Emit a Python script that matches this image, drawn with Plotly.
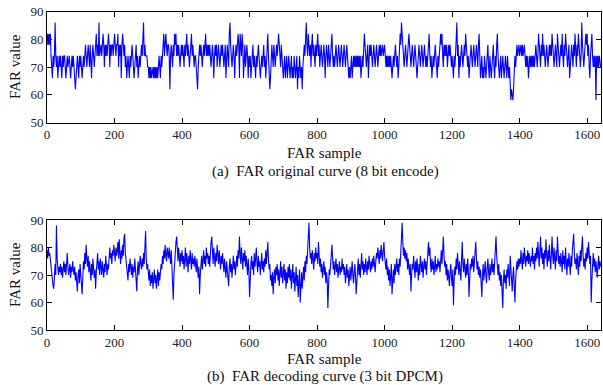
import plotly.graph_objects as go

# sample index step (every 2nd sample shown)
SAMPLE_STEP = 2

# (a) FAR original curve, 8-bit encode (quantized levels)
far_original = [
    78,82,78,82,78,82,74,70,66,74,70,74,86,74,70,74,66,70,74,70,
    74,70,66,74,70,74,74,70,66,70,74,70,74,74,70,66,70,74,70,74,
    70,66,62,66,70,74,70,66,74,70,74,70,66,70,74,70,74,78,74,70,
    74,78,74,70,78,74,66,74,78,74,70,74,78,82,74,78,74,86,74,78,
    78,74,78,82,78,70,78,74,78,74,78,82,78,70,78,74,78,78,74,78,
    82,78,74,78,78,82,70,78,74,78,66,78,82,78,74,78,70,74,66,70,
    74,70,66,74,70,74,78,74,70,66,70,74,78,70,74,66,70,74,70,74,
    78,74,82,86,74,78,74,74,74,70,70,66,70,66,70,66,70,70,66,70,
    66,70,66,70,66,70,74,70,66,74,70,74,78,82,74,78,82,78,74,78,
    78,74,62,74,78,74,70,78,74,82,78,82,74,78,74,78,74,70,74,78,
    74,78,74,70,78,74,78,82,74,78,74,70,74,78,82,74,78,74,70,74,
    74,70,66,62,70,74,78,74,78,74,70,74,78,74,78,82,74,78,74,78,
    74,78,74,70,74,78,74,66,74,78,74,78,70,74,78,74,70,74,78,74,
    78,74,70,74,78,66,74,78,74,70,82,86,78,74,70,74,78,74,66,74,
    78,74,78,82,78,66,82,78,74,82,78,66,74,78,70,74,78,74,66,74,
    70,74,66,70,74,78,70,74,70,66,74,70,74,78,74,70,66,70,74,70,
    74,78,70,74,66,74,78,82,74,70,62,66,74,78,74,70,78,74,70,74,
    78,74,78,82,78,74,70,78,74,70,66,70,74,66,70,74,66,70,74,70,
    66,70,74,66,70,66,74,70,66,70,74,62,70,66,74,70,66,70,62,70,
    74,78,74,82,86,78,74,82,78,74,78,70,78,82,74,78,74,70,78,74,
    78,82,74,78,70,74,78,74,70,74,78,74,66,74,78,74,70,78,74,70,
    74,78,82,74,70,74,70,74,78,74,70,74,78,74,70,74,78,74,70,74,
    78,74,70,74,78,74,70,66,70,66,70,74,66,70,74,70,74,70,74,70,
    74,70,74,70,74,66,70,74,70,74,82,78,74,70,74,78,66,74,78,74,
    78,74,70,74,78,74,70,74,78,74,70,74,78,74,78,74,78,78,74,78,
    78,74,70,74,70,74,70,74,70,74,70,66,70,74,70,74,78,74,70,74,
    66,70,74,82,78,86,82,78,74,70,74,78,74,70,74,78,82,78,74,70,
    74,78,74,70,74,78,74,70,66,70,74,78,74,70,74,78,74,70,74,78,
    74,70,74,70,74,78,82,74,70,74,66,70,74,70,74,78,74,70,66,74,
    70,74,78,82,78,82,74,70,78,74,78,74,78,70,74,78,74,78,74,70,
    74,70,66,74,70,74,78,86,74,78,66,74,70,74,78,74,70,74,78,74,
    82,78,74,70,74,66,70,74,78,74,70,74,78,74,70,74,78,74,70,78,
    82,74,66,70,74,66,70,66,74,70,66,70,74,78,70,66,74,70,66,70,
    74,78,70,66,74,70,78,82,74,70,66,70,74,66,70,74,70,66,70,74,
    70,66,74,70,66,70,62,58,62,58,58,62,66,74,70,74,78,74,78,78,
    74,78,78,74,78,74,78,78,74,70,74,70,74,66,70,74,70,74,70,74,
    70,74,70,74,78,74,70,74,82,78,74,70,78,74,82,74,78,74,70,74,
    78,74,70,74,78,74,78,74,82,78,74,70,74,78,74,70,82,78,74,70,
    74,78,74,82,74,70,78,74,82,78,74,70,74,78,66,70,74,78,74,70,
    78,74,82,74,70,78,74,82,78,74,70,74,86,78,74,70,74,78,82,78,
    82,74,78,70,66,74,78,82,74,70,74,70,74,58,74,70,74,70,74,70,70,
]

# (b) FAR decoding curve, 3-bit DPCM
far_decoded = [
    79,76,80,77,78,75,72,70,68,66,65,71,74,70,88,76,72,70,73,71,
    74,70,73,69,72,75,71,74,70,76,78,73,70,72,74,69,73,71,75,72,
    70,73,68,71,66,64,70,72,67,74,70,65,63,69,75,72,78,74,81,76,
    73,77,71,75,72,68,74,70,76,73,69,72,65,71,74,78,72,75,70,76,
    73,70,75,72,69,74,71,77,73,70,74,72,76,80,76,78,74,79,77,81,
    78,75,80,77,79,82,76,83,78,74,79,76,81,77,83,85,78,75,72,70,
    68,74,71,76,72,70,74,69,73,71,76,70,67,64,72,75,70,73,77,74,
    72,76,73,78,74,80,86,76,72,74,70,68,72,66,70,67,71,65,69,72,
    67,70,65,69,72,66,71,68,70,74,72,77,74,79,76,81,77,75,80,78,
    76,80,77,74,79,72,68,61,70,76,79,82,84,78,75,80,77,73,78,75,
    79,74,77,72,76,80,73,78,75,71,77,74,79,76,72,78,74,76,73,77,
    74,71,76,72,69,73,63,70,74,77,72,76,79,74,77,73,80,76,78,74,
    77,73,79,82,84,78,74,80,76,73,78,75,81,77,74,79,76,72,77,74,
    78,74,71,76,73,69,75,72,70,66,73,76,71,74,69,73,77,72,75,70,
    74,77,73,79,76,84,78,74,80,76,72,78,75,79,73,77,74,70,76,72,
    62,70,74,77,72,75,70,78,73,76,80,74,71,77,73,75,70,74,78,72,
    75,71,76,73,79,74,77,82,76,72,74,68,70,66,71,63,69,72,67,73,
    70,74,68,72,66,71,75,69,73,67,70,74,68,72,65,71,67,73,69,74,
    68,72,65,70,74,67,71,64,69,73,66,70,62,68,72,60,67,71,65,70,
    73,68,75,71,77,74,79,82,89,80,76,78,74,79,76,72,78,75,80,76,
    78,74,82,77,73,76,71,74,69,72,75,70,73,67,71,68,58,66,72,70,
    74,77,81,76,72,75,70,73,76,71,74,69,72,75,70,73,71,76,72,74,
    70,73,67,71,74,69,72,66,70,73,68,72,75,70,67,71,74,69,63,68,
    72,76,70,74,69,73,78,72,75,70,74,71,76,73,70,75,72,77,74,71,
    75,72,76,73,77,74,71,75,78,76,80,77,74,79,76,81,77,75,79,82,
    77,74,72,76,70,73,68,72,66,70,74,63,69,72,67,74,70,73,76,71,
    74,70,76,73,79,83,89,82,77,80,76,79,75,78,72,76,73,70,74,64,
    70,74,72,77,73,69,75,71,76,72,68,74,70,77,73,71,75,69,73,76,
    72,75,70,74,78,82,77,80,74,71,76,72,75,70,73,77,71,74,72,76,
    73,75,71,76,79,74,78,84,77,73,75,70,74,68,72,70,66,71,74,69,
    66,72,59,68,73,70,76,72,78,74,70,75,72,68,76,82,74,71,76,72,
    69,74,70,76,72,62,70,74,72,76,73,77,71,75,79,82,76,72,75,70,
    73,69,72,66,62,70,74,68,72,75,70,67,73,76,71,68,74,70,72,76,
    71,74,70,76,78,84,77,72,70,74,68,71,66,70,64,58,68,72,67,70,
    65,72,69,74,70,66,77,72,68,64,70,73,66,60,68,72,75,72,76,73,
    76,74,79,75,72,78,74,80,76,73,77,75,79,74,78,76,73,77,75,80,
    74,77,72,78,75,80,76,82,77,73,79,84,76,80,74,78,72,79,76,83,
    77,73,79,75,81,76,72,78,84,77,74,80,76,72,79,75,84,78,74,77,
    73,78,75,71,79,74,77,72,80,75,70,76,73,78,74,70,77,73,79,82,
    85,78,74,76,72,78,74,70,77,73,79,75,80,84,77,73,76,72,78,75,
    80,76,82,78,74,77,60,68,74,78,73,76,71,75,72,69,74,77,72,75,73,
]

x_ticks = [0, 200, 400, 600, 800, 1000, 1200, 1400, 1600]
y_ticks = [50, 60, 70, 80, 90]
x_title = "FAR sample"
y_title = "FAR value"
caption_a = "(a)  FAR original curve (8 bit encode)"
caption_b = "(b)  FAR decoding curve (3 bit DPCM)"

xs_a = [i * SAMPLE_STEP for i in range(len(far_original))]
xs_b = [i * SAMPLE_STEP for i in range(len(far_decoded))]

W, H = 603, 385
FONT = "Liberation Serif"

def px_x(p):
    return p / W

def px_y(p):
    return 1 - p / H

fig = go.Figure()
fig.add_trace(go.Scatter(x=xs_a, y=far_original, mode="lines",
                         line=dict(color="#0000ff", width=1.1),
                         xaxis="x", yaxis="y", showlegend=False))
fig.add_trace(go.Scatter(x=xs_b, y=far_decoded, mode="lines",
                         line=dict(color="#0000ff", width=1.1),
                         xaxis="x2", yaxis="y2", showlegend=False))

xdom = [px_x(47), px_x(601)]
axis_common = dict(showline=True, linecolor="black", linewidth=1, mirror="ticks",
                   ticks="inside", ticklen=5, tickcolor="black", showgrid=False,
                   zeroline=False, automargin=False,
                   tickfont=dict(family=FONT, size=13, color="#222222"))

fig.update_layout(
    template="none",
    width=W, height=H,
    autosize=False,
    font=dict(family=FONT, size=13, color="#222222"),
    margin=dict(l=0, r=0, t=0, b=0, pad=0, autoexpand=False),
    paper_bgcolor="white", plot_bgcolor="white",
    xaxis=dict(domain=xdom, range=[0, 1641], tickvals=x_ticks, anchor="y", **axis_common),
    yaxis=dict(domain=[px_y(122.5), px_y(11.5)], range=[50, 90], tickvals=y_ticks, anchor="x", **axis_common),
    xaxis2=dict(domain=xdom, range=[0, 1641], tickvals=x_ticks, anchor="y2", **axis_common),
    yaxis2=dict(domain=[px_y(330), px_y(220)], range=[50, 90], tickvals=y_ticks, anchor="x2", **axis_common),
)

ann_font = dict(family=FONT, size=15, color="#111111")
annotations = [
    dict(text=x_title, x=px_x(324), y=px_y(153)),
    dict(text=caption_a, x=px_x(325), y=px_y(172)),
    dict(text=x_title, x=px_x(324), y=px_y(359)),
    dict(text=caption_b, x=px_x(325), y=px_y(376)),
    dict(text=y_title, x=px_x(15), y=px_y(67), textangle=-90),
    dict(text=y_title, x=px_x(15), y=px_y(275), textangle=-90),
]
for a in annotations:
    fig.add_annotation(xref="paper", yref="paper", showarrow=False,
                       xanchor="center", yanchor="middle", font=ann_font, **a)

fig.write_html("out.html")
